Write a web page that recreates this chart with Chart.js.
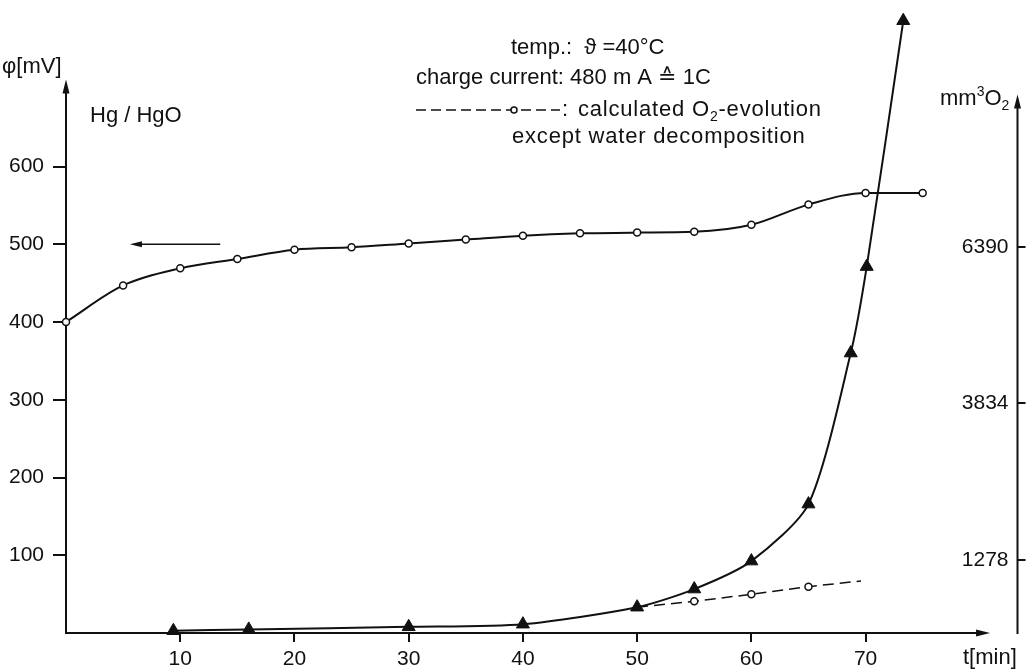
<!DOCTYPE html>
<html>
<head>
<meta charset="utf-8">
<script src="https://cdn.jsdelivr.net/npm/chart.js@4.4.0/dist/chart.umd.min.js"></script>
<style>
  html, body { margin: 0; padding: 0; background: #fff; }
  #c { display: block; }
</style>
</head>
<body>
<canvas id="c" width="1026" height="670"></canvas>
<script>
    // potential curve (open circles), mV vs min
    var potTime = [0, 5, 10, 15, 20, 25, 30, 35, 40, 45, 50, 55, 60, 65, 70, 75];
    var potMv   = [400, 447, 469, 481, 493, 496, 501, 506, 511, 514, 515, 516, 525, 551, 566, 566];

    // measured O2 volume (triangles), mm3
    var o2Time = [9.4, 16, 30, 40, 50, 55, 60, 65, 68.7, 70.1, 73.3];
    var o2Vol  = [119, 141, 183, 226, 504, 800, 1257, 2188, 4656, 6069, 10086];

    // calculated O2 evolution (dashed)
    var calcTime = [50, 55, 60, 65, 69.6];
    var calcVol  = [504, 600, 714, 839, 932];
    var calcDots = [0, 3.5, 3.5, 3.5, 0];

    var timeTicks = [10, 20, 30, 40, 50, 60, 70];
    var mvTicks   = [100, 200, 300, 400, 500, 600];
    var volTicks  = [1278, 3834, 6390];

    var FONT = "'Liberation Sans', 'DejaVu Sans', sans-serif";
    var INK = '#111';

    Chart.defaults.font.family = FONT;
    Chart.defaults.font.size = 21;
    Chart.defaults.color = INK;

    var toXY = function(xs, ys){
        var out = [];
        for(var i = 0; i < xs.length; i++){
            out.push({x: xs[i], y: ys[i]});
        }
        return out;
    };

    var arrow = function(ctx, x1, y1, x2, y2, len, half){
        var a = Math.atan2(y2 - y1, x2 - x1);
        ctx.beginPath();
        ctx.moveTo(x1, y1);
        ctx.lineTo(x2 - Math.cos(a) * len * 0.6, y2 - Math.sin(a) * len * 0.6);
        ctx.stroke();
        ctx.beginPath();
        ctx.moveTo(x2, y2);
        ctx.lineTo(x2 - Math.cos(a) * len - Math.sin(a) * half, y2 - Math.sin(a) * len + Math.cos(a) * half);
        ctx.lineTo(x2 - Math.cos(a) * len + Math.sin(a) * half, y2 - Math.sin(a) * len - Math.cos(a) * half);
        ctx.closePath();
        ctx.fill();
    };

    var axesPlugin = {
        id: 'axesArrows',
        beforeDatasetsDraw: function(chart){
            var ctx = chart.ctx, a = chart.chartArea;
            var x = chart.scales.x, y = chart.scales.y, y2 = chart.scales.y2;
            ctx.save();
            ctx.strokeStyle = INK;
            ctx.fillStyle = INK;
            ctx.lineWidth = 2;
            // left axis
            arrow(ctx, a.left, a.bottom + 1, a.left, y.getPixelForValue(712), 14, 3.5);
            // time axis
            arrow(ctx, a.left - 1, a.bottom, x.getPixelForValue(80.9), a.bottom, 14, 3.5);
            // right axis
            arrow(ctx, a.right, a.bottom + 1, a.right, y2.getPixelForValue(8880), 14, 3.5);
            // arrow pointing the potential curve to the left axis
            ctx.lineWidth = 1.5;
            arrow(ctx, x.getPixelForValue(13.5), y.getPixelForValue(500), x.getPixelForValue(5.6), y.getPixelForValue(500), 12, 3);
            ctx.restore();
        },
        afterDraw: function(chart){
            var ctx = chart.ctx;
            ctx.save();
            ctx.fillStyle = INK;
            ctx.strokeStyle = INK;
            ctx.textBaseline = 'alphabetic';
            ctx.font = '22px ' + FONT;

            ctx.fillText('\u03c6[mV]', 2, 73);
            ctx.fillText('Hg / HgO', 90, 122);

            ctx.fillText('temp.:  \u03d1 =40\u00b0C', 511, 54);
            ctx.fillText('charge current: 480 m A \u2259 1C', 416, 84);

            // dashed legend sample
            ctx.lineWidth = 1.5;
            ctx.setLineDash([10, 5]);
            ctx.beginPath();
            ctx.moveTo(416, 110);
            ctx.lineTo(560, 110);
            ctx.stroke();
            ctx.setLineDash([]);
            ctx.beginPath();
            ctx.arc(514, 110, 3, 0, Math.PI * 2);
            ctx.fillStyle = '#fff';
            ctx.fill();
            ctx.stroke();
            ctx.fillStyle = INK;

            ctx.letterSpacing = '0.8px';
            ctx.fillText(':', 562, 116);
            var tx = 578;
            ctx.fillText('calculated O', tx, 116);
            tx += ctx.measureText('calculated O').width;
            ctx.font = '14px ' + FONT;
            ctx.fillText('2', tx, 121);
            tx += ctx.measureText('2').width;
            ctx.font = '22px ' + FONT;
            ctx.fillText('-evolution', tx, 116);

            ctx.fillText('except water decomposition', 512, 143);
            ctx.letterSpacing = '0px';

            // right axis title
            var rx = 940;
            ctx.fillText('mm', rx, 105);
            rx += ctx.measureText('mm').width;
            ctx.font = '14px ' + FONT;
            ctx.fillText('3', rx, 96);
            rx += ctx.measureText('3').width;
            ctx.font = '22px ' + FONT;
            ctx.fillText('O', rx, 105);
            rx += ctx.measureText('O').width;
            ctx.font = '14px ' + FONT;
            ctx.fillText('2', rx, 110);

            ctx.font = '22px ' + FONT;
            ctx.fillText('t[min]', 963, 664);
            ctx.restore();
        }
    };

    var setTicks = function(list){
        return function(scale){
            scale.ticks = list.map(function(v){ return {value: v}; });
        };
    };

    var plainLabel = function(v){ return String(v); };

    var tickGrid = function(len){
        return {display: true, drawOnChartArea: false, drawTicks: true, tickLength: len, tickColor: INK, lineWidth: 2};
    };

    new Chart(document.getElementById('c').getContext('2d'), {
        type: 'line',
        data: {
            datasets: [
                {
                    label: 'potential',
                    data: toXY(potTime, potMv),
                    yAxisID: 'y',
                    borderColor: INK,
                    borderWidth: 2,
                    pointStyle: 'circle',
                    pointRadius: 3.5,
                    pointBackgroundColor: '#fff',
                    pointBorderColor: INK,
                    pointBorderWidth: 1.5,
                    cubicInterpolationMode: 'monotone',
                    clip: false
                },
                {
                    label: 'O2 measured',
                    data: toXY(o2Time, o2Vol),
                    yAxisID: 'y2',
                    borderColor: INK,
                    borderWidth: 2,
                    pointStyle: 'triangle',
                    pointRadius: 7.5,
                    pointBackgroundColor: INK,
                    pointBorderColor: INK,
                    pointBorderWidth: 1,
                    tension: 0.25,
                    clip: false
                },
                {
                    label: 'O2 calculated',
                    data: toXY(calcTime, calcVol),
                    yAxisID: 'y2',
                    borderColor: INK,
                    borderWidth: 1.5,
                    borderDash: [11, 6],
                    pointStyle: 'circle',
                    pointRadius: calcDots,
                    pointBackgroundColor: '#fff',
                    pointBorderColor: INK,
                    pointBorderWidth: 1.5,
                    tension: 0,
                    clip: false
                }
            ]
        },
        options: {
            responsive: false,
            animation: false,
            events: [],
            layout: {padding: {top: 11, left: 0, right: 0, bottom: 0}},
            plugins: {legend: {display: false}, tooltip: {enabled: false}},
            scales: {
                x: {
                    type: 'linear',
                    min: 0,
                    max: 83.3,
                    afterBuildTicks: setTicks(timeTicks),
                    afterFit: function(s){ s.height = 37; s.paddingLeft = 0; s.paddingRight = 0; },
                    grid: tickGrid(9),
                    border: {display: false},
                    ticks: {autoSkip: false, maxRotation: 0, padding: 5, callback: plainLabel}
                },
                y: {
                    position: 'left',
                    min: 0,
                    max: 800,
                    afterBuildTicks: setTicks(mvTicks),
                    afterFit: function(s){ s.width = 66; s.paddingTop = 0; s.paddingBottom = 0; },
                    grid: tickGrid(13),
                    border: {display: false},
                    ticks: {autoSkip: false, padding: 9, callback: plainLabel}
                },
                y2: {
                    position: 'right',
                    min: 82,
                    max: 10245,
                    afterBuildTicks: setTicks(volTicks),
                    afterFit: function(s){ s.width = 7; s.paddingTop = 0; s.paddingBottom = 0; },
                    grid: tickGrid(8),
                    border: {display: false},
                    ticks: {autoSkip: false, mirror: true, padding: -9, callback: plainLabel}
                }
            }
        },
        plugins: [axesPlugin]
    });
</script>
</body>
</html>
